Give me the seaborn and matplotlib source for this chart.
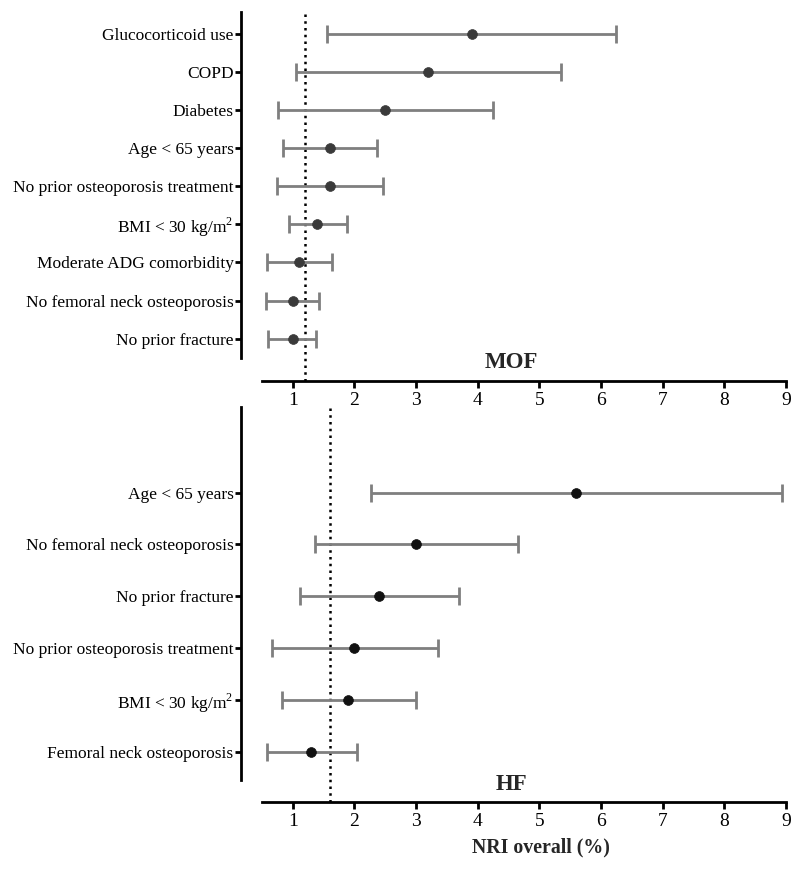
import numpy as np
import pandas as pd
import seaborn as sns
import matplotlib
matplotlib.use("Agg")
import matplotlib.pyplot as plt

# MOF panel (top to bottom)
mof_labels = ["Glucocorticoid use", "COPD", "Diabetes", "Age < 65 years",
              "No prior osteoporosis treatment", r"BMI < 30 kg/m$^\mathrm{2}$",
              "Moderate ADG comorbidity", "No femoral neck osteoporosis",
              "No prior fracture"]
mof_est = [3.9, 3.2, 2.5, 1.6, 1.6, 1.4, 1.1, 1.0, 1.0]
mof_low = [1.55, 1.05, 0.76, 0.84, 0.74, 0.93, 0.58, 0.56, 0.60]
mof_high = [6.25, 5.35, 4.25, 2.37, 2.47, 1.88, 1.64, 1.42, 1.38]
mof_ref = 1.2

# HF panel (top to bottom)
hf_labels = ["Age < 65 years", "No femoral neck osteoporosis", "No prior fracture",
             "No prior osteoporosis treatment", r"BMI < 30 kg/m$^\mathrm{2}$",
             "Femoral neck osteoporosis"]
hf_est = [5.6, 3.0, 2.4, 2.0, 1.9, 1.3]
hf_low = [2.27, 1.36, 1.12, 0.66, 0.82, 0.58]
hf_high = [8.94, 4.65, 3.70, 3.36, 3.0, 2.04]
hf_ref = 1.6

x_ticks = [1, 2, 3, 4, 5, 6, 7, 8, 9]

sns.set_theme(style="ticks")
plt.rcParams["font.family"] = ["Liberation Serif", "DejaVu Serif"]
plt.rcParams["mathtext.fontset"] = "custom"
plt.rcParams["mathtext.rm"] = "Liberation Serif"


def forest(ax, labels, est, low, high, ref, ylim, spine_bounds, title, dot_color):
    df = pd.DataFrame({"label": labels, "est": est, "low": low, "high": high})
    df["pos"] = np.arange(len(df))
    ax.errorbar(df["est"], df["pos"],
                xerr=[df["est"] - df["low"], df["high"] - df["est"]],
                fmt="none", ecolor="#7f7f7f", elinewidth=2, capsize=6.5,
                capthick=2, zorder=2)
    sns.scatterplot(data=df, x="est", y="pos", ax=ax, color=dot_color,
                    s=50, edgecolor=dot_color, linewidth=0.5, zorder=3)
    ax.axvline(ref, color="black", linestyle=(0, (1, 1.7)), linewidth=1.8, zorder=1)
    ax.set_xlim(0.5, 9)
    ax.set_ylim(*ylim)
    ax.set_xticks(x_ticks)
    ax.set_yticks(df["pos"])
    ax.set_yticklabels(df["label"])
    ax.set_ylabel("")
    ax.set_xlabel("")
    sns.despine(ax=ax)
    ax.spines["left"].set_position(("outward", 15))
    ax.spines["left"].set_bounds(*spine_bounds)
    for side in ["left", "bottom"]:
        ax.spines[side].set_linewidth(2)
        ax.spines[side].set_color("black")
    ax.tick_params(axis="x", direction="out", length=5, width=2,
                   labelsize=14, colors="black", pad=3)
    ax.tick_params(axis="y", direction="out", length=4.5, width=2,
                   labelsize=12.5, colors="black", pad=1)
    ax.annotate(title, xy=(4.55, 0), xycoords=("data", "axes fraction"),
                xytext=(0, 9), textcoords="offset points", ha="center",
                va="baseline", fontsize=16.5, fontweight="bold")


fig = plt.figure(figsize=(8, 8.71), dpi=100)
ax1 = fig.add_axes([0.3275, 0.5629, 0.655, 0.4237])
ax2 = fig.add_axes([0.3275, 0.0792, 0.655, 0.4535])

forest(ax1, mof_labels, mof_est, mof_low, mof_high, mof_ref,
       (9.1, -0.575), (-0.575, 8.5), "MOF", "#3a3a3a")
forest(ax2, hf_labels, hf_est, hf_low, hf_high, hf_ref,
       (5.97, -1.65), (-1.65, 5.54), "HF", "#111111")
ax2.set_xlabel("NRI overall (%)", fontsize=14.3, fontweight="bold", labelpad=5)
ax2.xaxis.label.set_x(0.532)

fig.savefig("out.png", dpi=100)
